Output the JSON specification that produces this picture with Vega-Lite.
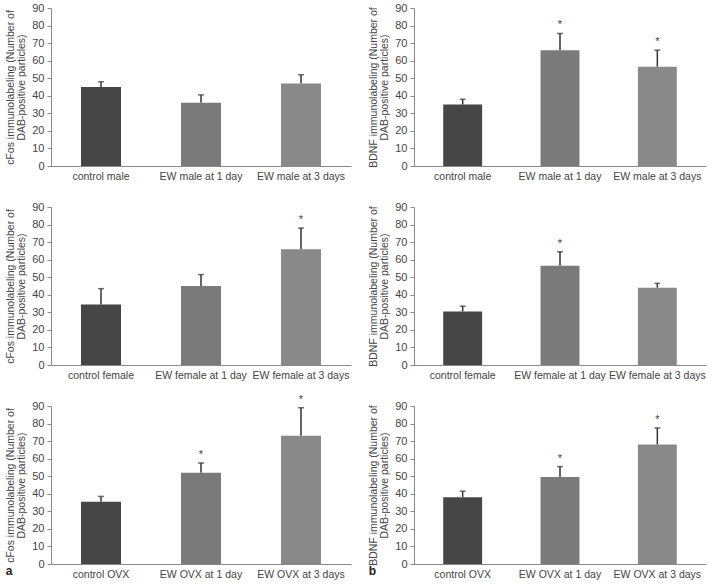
{
  "$schema": "https://vega.github.io/schema/vega-lite/v6.json",
  "background": "white",
  "padding": {"left": 5, "top": 2, "right": 3, "bottom": 0},
  "spacing": 17,
  "datasets": {
    "d": [
      {"panel": "cFos male", "group": "control male", "level": "control", "value": 45, "err": 48, "star": ""},
      {"panel": "cFos male", "group": "EW male at 1 day", "level": "1", "value": 36, "err": 40.5, "star": ""},
      {"panel": "cFos male", "group": "EW male at 3 days", "level": "3", "value": 47, "err": 52, "star": ""},
      {"panel": "BDNF male", "group": "control male", "level": "control", "value": 35, "err": 38, "star": ""},
      {"panel": "BDNF male", "group": "EW male at 1 day", "level": "1", "value": 66, "err": 75.5, "star": "*"},
      {"panel": "BDNF male", "group": "EW male at 3 days", "level": "3", "value": 56.5, "err": 66, "star": "*"},
      {"panel": "cFos female", "group": "control female", "level": "control", "value": 34.5, "err": 43.5, "star": ""},
      {"panel": "cFos female", "group": "EW female at 1 day", "level": "1", "value": 45, "err": 51.5, "star": ""},
      {"panel": "cFos female", "group": "EW female at 3 days", "level": "3", "value": 66, "err": 78, "star": "*"},
      {"panel": "BDNF female", "group": "control female", "level": "control", "value": 30.5, "err": 33.5, "star": ""},
      {"panel": "BDNF female", "group": "EW female at 1 day", "level": "1", "value": 56.5, "err": 64.5, "star": "*"},
      {"panel": "BDNF female", "group": "EW female at 3 days", "level": "3", "value": 44, "err": 46.5, "star": ""},
      {"panel": "cFos OVX", "group": "control OVX", "level": "control", "value": 35.5, "err": 38.5, "star": ""},
      {"panel": "cFos OVX", "group": "EW OVX at 1 day", "level": "1", "value": 52, "err": 57.5, "star": "*"},
      {"panel": "cFos OVX", "group": "EW OVX at 3 days", "level": "3", "value": 73, "err": 89, "star": "*"},
      {"panel": "BDNF OVX", "group": "control OVX", "level": "control", "value": 38, "err": 41.5, "star": ""},
      {"panel": "BDNF OVX", "group": "EW OVX at 1 day", "level": "1", "value": 49.5, "err": 55.5, "star": "*"},
      {"panel": "BDNF OVX", "group": "EW OVX at 3 days", "level": "3", "value": 68, "err": 77.5, "star": "*"}
    ]
  },
  "config": {
    "font": "Liberation Sans",
    "view": {"stroke": null},
    "axis": {
      "domainColor": "#8a8a8a",
      "tickColor": "#8a8a8a",
      "labelColor": "#444444",
      "labelFont": "Liberation Sans",
      "labelFontSize": 11,
      "titleFont": "Liberation Sans",
      "titleFontSize": 10.5,
      "titleLineHeight": 11,
      "titleFontWeight": "normal",
      "titleColor": "#444444",
      "grid": false,
      "labelOverlap": false
    },
    "axisX": {"ticks": false, "labelAngle": 0, "title": null, "labelPadding": 5, "labelFontSize": 10.5},
    "axisY": {"tickCount": 9, "tickSize": 4, "titlePadding": 5, "labelPadding": 3}
  },
  "hconcat": [
    {
      "spacing": 41,
      "bounds": "flush",
      "title": {"text": "a", "orient": "bottom", "anchor": "start", "frame": "bounds", "fontSize": 12, "fontWeight": "bold", "color": "#222222", "offset": -14},
      "vconcat": [
        {
          "width": 300, "height": 158,
          "data": {"name": "d"},
          "transform": [{"filter": "datum.panel == 'cFos male'"}],
          "encoding": {
            "x": {"field": "group", "type": "nominal", "sort": null, "scale": {"paddingInner": 0.6, "paddingOuter": 0.3}},
            "y": {"field": "value", "type": "quantitative", "scale": {"domain": [0, 90]}, "title": ["cFos immunolabeling (Number of", "DAB-positive particles)"]}
          },
          "layer": [
            {"mark": {"type": "rule", "color": "#333333", "strokeWidth": 1.5}, "encoding": {"y2": {"field": "err"}}},
            {"mark": {"type": "bar"}, "encoding": {"color": {"field": "level", "type": "nominal", "scale": {"domain": ["control", "1", "3"], "range": ["#464646", "#7a7a7a", "#898989"]}, "legend": null}}},
            {"mark": {"type": "tick", "color": "#333333", "thickness": 1.5, "size": 6}, "encoding": {"y": {"field": "err", "type": "quantitative"}}},
            {"mark": {"type": "text", "baseline": "bottom", "dy": -3, "fontSize": 11, "fill": "#444444"}, "encoding": {"y": {"field": "err", "type": "quantitative"}, "text": {"field": "star"}}}
          ]
        },
        {
          "width": 300, "height": 158,
          "data": {"name": "d"},
          "transform": [{"filter": "datum.panel == 'cFos female'"}],
          "encoding": {
            "x": {"field": "group", "type": "nominal", "sort": null, "scale": {"paddingInner": 0.6, "paddingOuter": 0.3}},
            "y": {"field": "value", "type": "quantitative", "scale": {"domain": [0, 90]}, "title": ["cFos immunolabeling (Number of", "DAB-positive particles)"]}
          },
          "layer": [
            {"mark": {"type": "rule", "color": "#333333", "strokeWidth": 1.5}, "encoding": {"y2": {"field": "err"}}},
            {"mark": {"type": "bar"}, "encoding": {"color": {"field": "level", "type": "nominal", "scale": {"domain": ["control", "1", "3"], "range": ["#464646", "#7a7a7a", "#898989"]}, "legend": null}}},
            {"mark": {"type": "tick", "color": "#333333", "thickness": 1.5, "size": 6}, "encoding": {"y": {"field": "err", "type": "quantitative"}}},
            {"mark": {"type": "text", "baseline": "bottom", "dy": -3, "fontSize": 11, "fill": "#444444"}, "encoding": {"y": {"field": "err", "type": "quantitative"}, "text": {"field": "star"}}}
          ]
        },
        {
          "width": 300, "height": 158,
          "data": {"name": "d"},
          "transform": [{"filter": "datum.panel == 'cFos OVX'"}],
          "encoding": {
            "x": {"field": "group", "type": "nominal", "sort": null, "scale": {"paddingInner": 0.6, "paddingOuter": 0.3}},
            "y": {"field": "value", "type": "quantitative", "scale": {"domain": [0, 90]}, "title": ["cFos immunolabeling (Number of", "DAB-positive particles)"]}
          },
          "layer": [
            {"mark": {"type": "rule", "color": "#333333", "strokeWidth": 1.5}, "encoding": {"y2": {"field": "err"}}},
            {"mark": {"type": "bar"}, "encoding": {"color": {"field": "level", "type": "nominal", "scale": {"domain": ["control", "1", "3"], "range": ["#464646", "#7a7a7a", "#898989"]}, "legend": null}}},
            {"mark": {"type": "tick", "color": "#333333", "thickness": 1.5, "size": 6}, "encoding": {"y": {"field": "err", "type": "quantitative"}}},
            {"mark": {"type": "text", "baseline": "bottom", "dy": -3, "fontSize": 11, "fill": "#444444"}, "encoding": {"y": {"field": "err", "type": "quantitative"}, "text": {"field": "star"}}}
          ]
        }
      ]
    },
    {
      "spacing": 41,
      "bounds": "flush",
      "title": {"text": "b", "orient": "bottom", "anchor": "start", "frame": "bounds", "fontSize": 12, "fontWeight": "bold", "color": "#222222", "offset": -14},
      "vconcat": [
        {
          "width": 292, "height": 158,
          "data": {"name": "d"},
          "transform": [{"filter": "datum.panel == 'BDNF male'"}],
          "encoding": {
            "x": {"field": "group", "type": "nominal", "sort": null, "scale": {"paddingInner": 0.6, "paddingOuter": 0.3}},
            "y": {"field": "value", "type": "quantitative", "scale": {"domain": [0, 90]}, "title": ["BDNF immunolabeling (Number of", "DAB-positive particles)"]}
          },
          "layer": [
            {"mark": {"type": "rule", "color": "#333333", "strokeWidth": 1.5}, "encoding": {"y2": {"field": "err"}}},
            {"mark": {"type": "bar"}, "encoding": {"color": {"field": "level", "type": "nominal", "scale": {"domain": ["control", "1", "3"], "range": ["#464646", "#7a7a7a", "#898989"]}, "legend": null}}},
            {"mark": {"type": "tick", "color": "#333333", "thickness": 1.5, "size": 6}, "encoding": {"y": {"field": "err", "type": "quantitative"}}},
            {"mark": {"type": "text", "baseline": "bottom", "dy": -3, "fontSize": 11, "fill": "#444444"}, "encoding": {"y": {"field": "err", "type": "quantitative"}, "text": {"field": "star"}}}
          ]
        },
        {
          "width": 292, "height": 158,
          "data": {"name": "d"},
          "transform": [{"filter": "datum.panel == 'BDNF female'"}],
          "encoding": {
            "x": {"field": "group", "type": "nominal", "sort": null, "scale": {"paddingInner": 0.6, "paddingOuter": 0.3}},
            "y": {"field": "value", "type": "quantitative", "scale": {"domain": [0, 90]}, "title": ["BDNF immunolabeling (Number of", "DAB-positive particles)"]}
          },
          "layer": [
            {"mark": {"type": "rule", "color": "#333333", "strokeWidth": 1.5}, "encoding": {"y2": {"field": "err"}}},
            {"mark": {"type": "bar"}, "encoding": {"color": {"field": "level", "type": "nominal", "scale": {"domain": ["control", "1", "3"], "range": ["#464646", "#7a7a7a", "#898989"]}, "legend": null}}},
            {"mark": {"type": "tick", "color": "#333333", "thickness": 1.5, "size": 6}, "encoding": {"y": {"field": "err", "type": "quantitative"}}},
            {"mark": {"type": "text", "baseline": "bottom", "dy": -3, "fontSize": 11, "fill": "#444444"}, "encoding": {"y": {"field": "err", "type": "quantitative"}, "text": {"field": "star"}}}
          ]
        },
        {
          "width": 292, "height": 158,
          "data": {"name": "d"},
          "transform": [{"filter": "datum.panel == 'BDNF OVX'"}],
          "encoding": {
            "x": {"field": "group", "type": "nominal", "sort": null, "scale": {"paddingInner": 0.6, "paddingOuter": 0.3}},
            "y": {"field": "value", "type": "quantitative", "scale": {"domain": [0, 90]}, "title": ["BDNF immunolabeling (Number of", "DAB-positive particles)"]}
          },
          "layer": [
            {"mark": {"type": "rule", "color": "#333333", "strokeWidth": 1.5}, "encoding": {"y2": {"field": "err"}}},
            {"mark": {"type": "bar"}, "encoding": {"color": {"field": "level", "type": "nominal", "scale": {"domain": ["control", "1", "3"], "range": ["#464646", "#7a7a7a", "#898989"]}, "legend": null}}},
            {"mark": {"type": "tick", "color": "#333333", "thickness": 1.5, "size": 6}, "encoding": {"y": {"field": "err", "type": "quantitative"}}},
            {"mark": {"type": "text", "baseline": "bottom", "dy": -3, "fontSize": 11, "fill": "#444444"}, "encoding": {"y": {"field": "err", "type": "quantitative"}, "text": {"field": "star"}}}
          ]
        }
      ]
    }
  ]
}
